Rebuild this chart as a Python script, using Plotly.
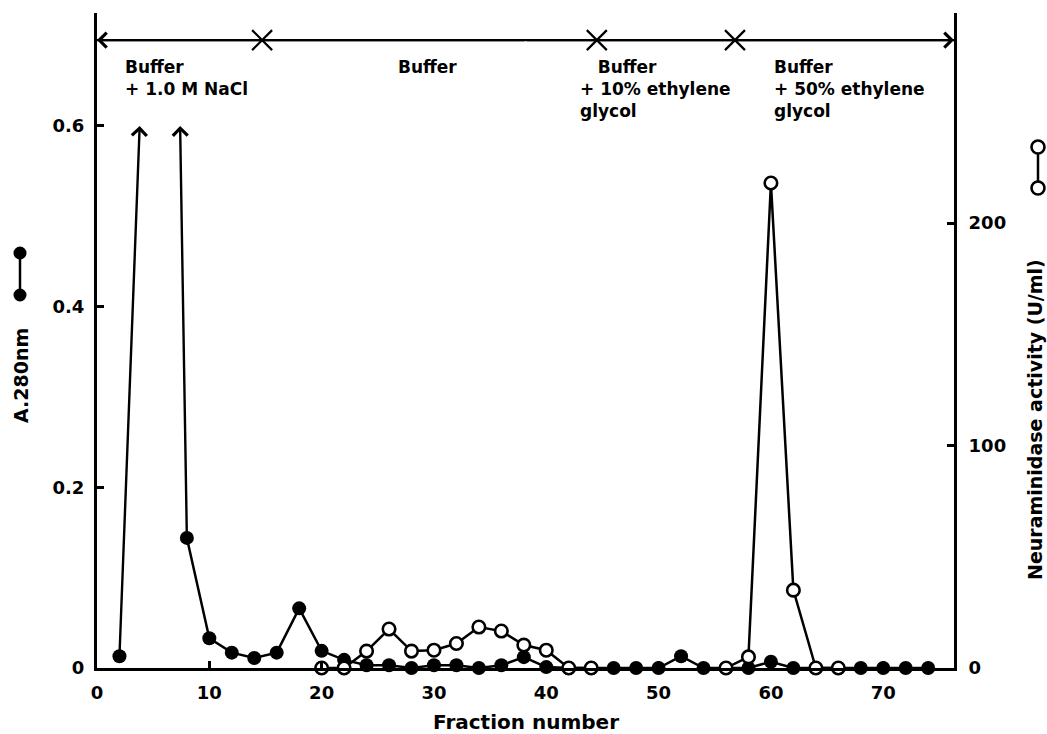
import plotly.graph_objects as go

# ---------------- data ----------------
fraction_a280 = [2, 8, 10, 12, 14, 16, 18, 20, 22, 24, 26, 28, 30, 32, 34, 36, 38, 40,
                 42, 44, 46, 48, 50, 52, 54, 56, 58, 60, 62, 64, 66, 68, 70, 72, 74]
a280 = [0.013, 0.144, 0.033, 0.017, 0.011, 0.017, 0.066, 0.019, 0.009, 0.003, 0.003, 0.0,
        0.003, 0.003, 0.0, 0.003, 0.012, 0.001, 0.0, 0.0, 0.0, 0.0, 0.0, 0.013, 0.0, 0.0,
        0.0, 0.007, 0.0, 0.0, 0.0, 0.0, 0.0, 0.0, 0.0]

fraction_na_1 = [20, 22, 24, 26, 28, 30, 32, 34, 36, 38, 40, 42, 44]
activity_na_1 = [0, 0, 7.6, 17.5, 7.6, 8, 11, 18.4, 16.6, 10.3, 8, 0, 0]
fraction_na_2 = [56, 58, 60, 62, 64, 66]
activity_na_2 = [0, 5, 218, 35, 0, 0]

# off-scale A280 peaks (drawn as arrows reaching the 0.6 level)
offscale_peak_x = [3.8, 7.4]
offscale_level = 0.6
offscale_from = [(2, 0.013), (8, 0.144)]

# elution buffer changes
buffer_level = 0.695
buffer_boundaries = [14.7, 44.5, 56.8]
buffer_labels = ["Buffer<br>+ 1.0 M NaCl",
                 "Buffer",
                 "&nbsp;&nbsp;&nbsp;Buffer<br>+ 10% ethylene<br>glycol",
                 "Buffer<br>+ 50% ethylene<br>glycol"]
buffer_label_x = [2.3, 26.6, 42.8, 60.1]

x_ticks = [0, 10, 20, 30, 40, 50, 60, 70]
y_ticks = [0, 0.2, 0.4, 0.6]
y_ticktext = ["0", "0.2", "0.4", "0.6"]
y2_ticks = [0, 100, 200]

X_RANGE = [0, 76.3]
Y_RANGE = [0, 0.725]
Y2_RANGE = [0, 294.4]

# ---------------- layout geometry ----------------
W, H = 1047, 734
ML, MR, MT, MB = 97, 93, 13, 66
PW, PH = W - ML - MR, H - MT - MB


def px_x(px):
    return (px - ML) / PW


def px_y(py):
    return (H - MB - py) / PH


FONT = "DejaVu Sans"
BLACK = "#000000"
LW = 2.5

fig = go.Figure()

# A280 (filled circles); the line is broken after the first fraction where the
# off-scale peaks are drawn as arrows
a280_x = fraction_a280[:1] + [None] + fraction_a280[1:]
a280_y = a280[:1] + [None] + a280[1:]
fig.add_trace(go.Scatter(
    x=a280_x, y=a280_y, mode="lines+markers", connectgaps=False,
    line=dict(color=BLACK, width=LW),
    marker=dict(symbol="circle", size=14, color=BLACK, line=dict(width=0)),
    cliponaxis=False, yaxis="y"))

# Neuraminidase activity (open circles)
fig.add_trace(go.Scatter(
    x=fraction_na_1 + [None] + fraction_na_2,
    y=activity_na_1 + [None] + activity_na_2,
    mode="lines+markers", connectgaps=False,
    line=dict(color=BLACK, width=LW),
    marker=dict(symbol="circle", size=12.5, color="white", line=dict(color=BLACK, width=2.6)),
    cliponaxis=False, yaxis="y2"))

# buffer change crosses
fig.add_trace(go.Scatter(
    x=buffer_boundaries, y=[buffer_level] * len(buffer_boundaries), mode="markers",
    marker=dict(symbol="x-thin-open", size=20, color=BLACK, line=dict(color=BLACK, width=2.2)),
    cliponaxis=False, yaxis="y"))

annotations = []
shapes = []

# top elution line with end chevrons
shapes.append(dict(type="line", xref="x", yref="y",
                   x0=X_RANGE[0], x1=X_RANGE[1], y0=buffer_level, y1=buffer_level,
                   line=dict(color=BLACK, width=2.2)))
mid = (X_RANGE[0] + X_RANGE[1]) / 2
for end in (X_RANGE[0], X_RANGE[1]):
    annotations.append(dict(
        x=end, y=buffer_level, ax=mid, ay=buffer_level,
        xref="x", yref="y", axref="x", ayref="y",
        text="", showarrow=True, arrowhead=4, arrowsize=1.3, arrowwidth=2.2,
        arrowcolor=BLACK))

# off-scale peak arrows
for (x0, y0), xp in zip(offscale_from, offscale_peak_x):
    annotations.append(dict(
        x=xp, y=offscale_level, ax=x0, ay=y0,
        xref="x", yref="y", axref="x", ayref="y",
        text="", showarrow=True, arrowhead=4, arrowsize=1.2, arrowwidth=2.4,
        arrowcolor=BLACK))

# buffer labels
for txt, xl in zip(buffer_labels, buffer_label_x):
    annotations.append(dict(
        x=xl, y=0.678, xref="x", yref="y", xanchor="left", yanchor="top",
        text=txt, showarrow=False, align="left",
        font=dict(family=FONT, size=17, color=BLACK, weight="bold")))

# axis titles
annotations.append(dict(
    x=px_x(526), y=px_y(722), xref="paper", yref="paper",
    xanchor="center", yanchor="middle", text="Fraction number", showarrow=False,
    font=dict(family=FONT, size=20, color=BLACK, weight="bold")))
annotations.append(dict(
    x=px_x(21), y=px_y(376), xref="paper", yref="paper", textangle=-90,
    xanchor="center", yanchor="middle", text="A.280nm", showarrow=False,
    font=dict(family=FONT, size=19, color=BLACK, weight="bold")))
annotations.append(dict(
    x=px_x(1035), y=px_y(420), xref="paper", yref="paper", textangle=-90,
    xanchor="center", yanchor="middle", text="Neuraminidase activity (U/ml)",
    showarrow=False,
    font=dict(family=FONT, size=19, color=BLACK, weight="bold")))


# legend glyphs next to the axis titles
def glyph(cx, cy1, cy2, filled):
    r = 6.5
    shapes.append(dict(type="line", xref="paper", yref="paper",
                       x0=px_x(cx), x1=px_x(cx), y0=px_y(cy1), y1=px_y(cy2),
                       line=dict(color=BLACK, width=2.5)))
    for cy in (cy1, cy2):
        shapes.append(dict(type="circle", xref="paper", yref="paper",
                           xsizemode="pixel", ysizemode="pixel",
                           xanchor=px_x(cx), yanchor=px_y(cy),
                           x0=-r, x1=r, y0=-r, y1=r,
                           fillcolor=BLACK if filled else "white",
                           line=dict(color=BLACK, width=0 if filled else 2.6)))


glyph(20, 253, 295, True)
glyph(1038, 147, 188, False)

tickfont = dict(family=FONT, size=18, color=BLACK, weight="bold")
axis_common = dict(showline=True, linecolor=BLACK, linewidth=3, showgrid=False,
                   zeroline=False, ticks="inside", ticklen=7, tickwidth=2.5,
                   tickcolor=BLACK, tickfont=tickfont)

fig.update_layout(
    width=W, height=H,
    margin=dict(l=ML, r=MR, t=MT, b=MB, pad=0),
    paper_bgcolor="white", plot_bgcolor="white",
    showlegend=False,
    xaxis=dict(range=X_RANGE, tickvals=x_ticks, ticklabelstandoff=6, **axis_common),
    yaxis=dict(range=Y_RANGE, tickvals=y_ticks, ticktext=y_ticktext,
               ticklabelstandoff=6, **axis_common),
    yaxis2=dict(range=Y2_RANGE, tickvals=y2_ticks, overlaying="y", side="right",
                ticklabelstandoff=8, **axis_common),
    annotations=annotations,
    shapes=shapes,
)

fig.write_html("out.html")
